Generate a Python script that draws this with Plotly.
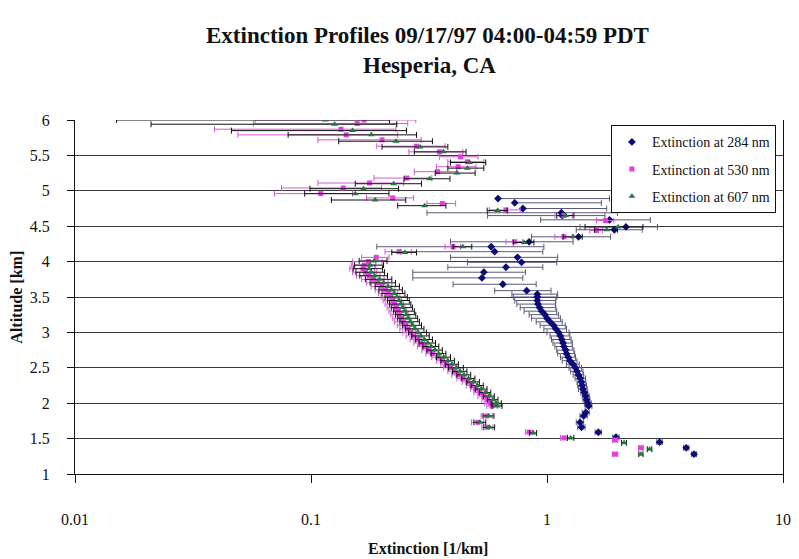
import plotly.graph_objects as go

# ---------------- data ----------------
# Extinction at 284 nm
alt_284 = [1.28, 1.37, 1.45, 1.52, 1.59, 1.66, 1.73, 1.82, 1.87, 1.96, 2.00, 2.05, 2.10, 2.15,
           2.20, 2.25, 2.30, 2.35, 2.40, 2.45, 2.50, 2.55, 2.60, 2.65, 2.70, 2.75, 2.80, 2.85,
           2.90, 2.95, 3.00, 3.05, 3.10, 3.15, 3.20, 3.25, 3.30, 3.35, 3.40, 3.45, 3.50, 3.54,
           3.59, 3.68, 3.77, 3.85, 3.92, 3.99, 4.06, 4.14, 4.21, 4.28, 4.35, 4.45, 4.49, 4.59,
           4.65, 4.69, 4.75, 4.83, 4.89]
ext_284 = [4.2, 3.89, 3.0, 1.96, 1.65, 1.40, 1.38, 1.43, 1.46, 1.50, 1.49, 1.47, 1.46, 1.44,
           1.42, 1.41, 1.40, 1.385, 1.36, 1.34, 1.32, 1.29, 1.25, 1.23, 1.21, 1.20, 1.18, 1.17,
           1.155, 1.14, 1.12, 1.09, 1.065, 1.03, 1.00, 0.98, 0.95, 0.93, 0.915, 0.91, 0.91, 0.91,
           0.82, 0.65, 0.53, 0.54, 0.67, 0.78, 0.75, 0.60, 0.58, 0.84, 1.36, 1.93, 2.16, 1.84,
           1.16, 1.15, 0.79, 0.73, 0.62]
err_284 = [0.10, 0.10, 0.08, 0.06, 0.05, 0.05, 0.05, 0.05, 0.05, 0.05, 0.05, 0.05, 0.05, 0.05,
           0.06, 0.06, 0.06, 0.07, 0.07, 0.08, 0.08, 0.08, 0.09, 0.09, 0.10, 0.10, 0.10, 0.11,
           0.11, 0.11, 0.12, 0.12, 0.13, 0.13, 0.14, 0.14, 0.15, 0.16, 0.17, 0.18, 0.19, 0.20,
           0.22, 0.25, 0.26, 0.27, 0.29, 0.32, 0.36, 0.36, 0.39, 0.45, 0.50, 0.60, 0.78, 0.90,
           0.60, 0.84, 1.00, 0.97, 1.22]

# Extinction at 530 nm
alt_530 = [1.28, 1.37, 1.48, 1.51, 1.59, 1.66, 1.73, 1.82, 1.96, 2.00, 2.05, 2.10, 2.15, 2.20,
           2.25, 2.30, 2.35, 2.40, 2.45, 2.50, 2.55, 2.60, 2.65, 2.70, 2.75, 2.80, 2.85, 2.90,
           2.95, 3.00, 3.05, 3.10, 3.15, 3.20, 3.25, 3.30, 3.35, 3.40, 3.45, 3.50, 3.55, 3.60,
           3.65, 3.70, 3.75, 3.80, 3.85, 3.90, 3.95, 4.00, 4.06, 4.14, 4.21, 4.28, 4.35, 4.44,
           4.58, 4.65, 4.73, 4.82, 4.90, 4.96, 5.04, 5.11, 5.18, 5.27, 5.34, 5.41, 5.48, 5.55,
           5.63, 5.72, 5.79, 5.87, 5.95, 6.00]
ext_530 = [1.945, 2.50, 1.945, 1.18, 0.84, 0.56, 0.509, 0.556, 0.585, 0.575, 0.56, 0.54, 0.52, 0.50,
           0.48, 0.462, 0.44, 0.42, 0.405, 0.39, 0.375, 0.36, 0.345, 0.327, 0.315, 0.303, 0.293, 0.283,
           0.273, 0.265, 0.258, 0.252, 0.246, 0.242, 0.238, 0.234, 0.230, 0.226, 0.222, 0.218, 0.213, 0.207,
           0.200, 0.192, 0.184, 0.176, 0.170, 0.166, 0.168, 0.175, 0.189, 0.236, 0.40, 0.73, 1.18, 1.62,
           1.77, 1.18, 0.67, 0.36, 0.222, 0.11, 0.137, 0.177, 0.255, 0.344, 0.42, 0.46, 0.43, 0.35,
           0.28, 0.200, 0.141, 0.134, 0.157, 0.168]
err_530 = [0.05, 0.06, 0.05, 0.04, 0.03, 0.03, 0.03, 0.03, 0.03, 0.03, 0.03, 0.03, 0.03, 0.025,
           0.025, 0.025, 0.025, 0.025, 0.025, 0.025, 0.02, 0.02, 0.02, 0.02, 0.02, 0.02, 0.02, 0.02,
           0.02, 0.02, 0.02, 0.02, 0.02, 0.02, 0.02, 0.02, 0.02, 0.02, 0.02, 0.02, 0.02, 0.02,
           0.02, 0.02, 0.02, 0.02, 0.02, 0.02, 0.02, 0.025, 0.025, 0.03, 0.03, 0.06, 0.10, 0.10,
           0.15, 0.10, 0.10, 0.05, 0.05, 0.04, 0.062, 0.07, 0.07, 0.07, 0.08, 0.08, 0.08, 0.09,
           0.09, 0.093, 0.092, 0.095, 0.10, 0.11]

# Extinction at 607 nm
alt_607 = [1.28, 1.35, 1.44, 1.51, 1.58, 1.66, 1.73, 1.82, 1.96, 2.00, 2.05, 2.10, 2.15, 2.20,
           2.25, 2.30, 2.35, 2.40, 2.45, 2.50, 2.55, 2.60, 2.65, 2.70, 2.75, 2.80, 2.85, 2.90,
           2.95, 3.00, 3.05, 3.10, 3.15, 3.20, 3.25, 3.30, 3.35, 3.40, 3.45, 3.50, 3.55, 3.60,
           3.65, 3.70, 3.75, 3.80, 3.85, 3.90, 3.95, 4.01, 4.13, 4.21, 4.27, 4.35, 4.45, 4.49,
           4.65, 4.72, 4.79, 4.87, 4.96, 5.03, 5.10, 5.17, 5.25, 5.32, 5.40, 5.55, 5.62, 5.70,
           5.79, 5.85, 5.94, 6.00]
ext_607 = [2.50, 2.72, 2.12, 1.26, 0.874, 0.57, 0.52, 0.566, 0.615, 0.61, 0.59, 0.568, 0.548, 0.527,
           0.507, 0.487, 0.465, 0.445, 0.428, 0.412, 0.396, 0.38, 0.365, 0.348, 0.335, 0.323, 0.312, 0.302,
           0.292, 0.284, 0.276, 0.269, 0.263, 0.258, 0.253, 0.249, 0.244, 0.240, 0.236, 0.231, 0.225, 0.219,
           0.212, 0.203, 0.195, 0.186, 0.180, 0.176, 0.178, 0.185, 0.25, 0.44, 0.80, 1.29, 1.79, 2.0,
           1.20, 0.618, 0.303, 0.187, 0.154, 0.167, 0.224, 0.318, 0.416, 0.46, 0.47, 0.364, 0.29, 0.229,
           0.18, 0.150, 0.126, 0.115]
err_607 = [0.05, 0.06, 0.05, 0.04, 0.03, 0.03, 0.03, 0.03, 0.03, 0.03, 0.03, 0.03, 0.03, 0.03,
           0.03, 0.03, 0.03, 0.03, 0.03, 0.03, 0.025, 0.025, 0.025, 0.025, 0.025, 0.025, 0.025, 0.025,
           0.025, 0.025, 0.025, 0.025, 0.025, 0.025, 0.025, 0.025, 0.025, 0.025, 0.025, 0.025, 0.025, 0.025,
           0.025, 0.025, 0.025, 0.025, 0.025, 0.025, 0.025, 0.025, 0.03, 0.04, 0.08, 0.12, 0.20, 0.55,
           0.10, 0.06, 0.07, 0.065, 0.06, 0.068, 0.07, 0.07, 0.08, 0.08, 0.08, 0.09, 0.09, 0.098,
           0.10, 0.104, 0.105, 0.10]

y_ticks = [1, 1.5, 2, 2.5, 3, 3.5, 4, 4.5, 5, 5.5, 6]
y_tick_text = ["1", "1.5", "2", "2.5", "3", "3.5", "4", "4.5", "5", "5.5", "6"]
x_ticks = [0.01, 0.1, 1, 10]
x_tick_text = ["0.01", "0.1", "1", "10"]

title_1 = "Extinction Profiles 09/17/97 04:00-04:59 PDT"
title_2 = "Hesperia, CA"
x_title = "Extinction [1/km]"
y_title = "Altitude [km]"
names = ["Extinction at 284 nm", "Extinction at 530 nm", "Extinction at 607 nm"]

FONT = "Liberation Serif"


def minus_of(vals, errs):
    # Excel omits the lower whisker when it would reach zero or below on a log axis
    return [e if v - e > 0 else 0 for v, e in zip(vals, errs)]


series = [
    (alt_284, ext_284, err_284, names[0], "diamond", 6, "#0a0a78", "#5a5a78"),
    (alt_530, ext_530, err_530, names[1], "square", 5, "#e63ce6", "#d25ad2"),
    (alt_607, ext_607, err_607, names[2], "triangle-up", 6, "#217a3c", "#111111"),
]

fig = go.Figure()
for i, (alts, vals, errs, nm, sym, sz, col, ecol) in enumerate(series):
    fig.add_trace(go.Scatter(
        x=vals, y=alts, mode="markers", name=nm, legendgroup=str(i),
        marker=dict(symbol=sym, size=sz, color=col, line=dict(width=0)),
        error_x=dict(type="data", symmetric=False, array=errs,
                     arrayminus=minus_of(vals, errs),
                     color=ecol, thickness=1, width=3),
    ))

W, H = 799, 559
L, R, T, B = 75, 8, 120, 85
pw, ph = W - L - R, H - T - B


def px_x(px):
    return (px - L) / pw


def px_y(py):
    return (H - B - py) / ph


annotations = [
    dict(text="<b>" + title_1 + "</b>", x=px_x(431), y=px_y(36), xref="paper", yref="paper",
         showarrow=False, font=dict(family=FONT, size=23, color="#111"), xanchor="center", yanchor="middle"),
    dict(text="<b>" + title_2 + "</b>", x=px_x(433), y=px_y(66), xref="paper", yref="paper",
         showarrow=False, font=dict(family=FONT, size=23, color="#111"), xanchor="center", yanchor="middle"),
    dict(text="<b>" + x_title + "</b>", x=px_x(432), y=px_y(548), xref="paper", yref="paper",
         showarrow=False, font=dict(family=FONT, size=16, color="#111"), xanchor="center", yanchor="middle"),
    dict(text="<b>" + y_title + "</b>", x=px_x(15), y=px_y(297), xref="paper", yref="paper",
         showarrow=False, textangle=-90, font=dict(family=FONT, size=16, color="#111"),
         xanchor="center", yanchor="middle"),
]

fig.update_layout(
    width=W, height=H,
    margin=dict(l=L, r=R, t=T, b=B, pad=0),
    paper_bgcolor="white", plot_bgcolor="white",
    font=dict(family=FONT, size=16, color="#111"),
    showlegend=True,
    legend=dict(x=0.99, y=0.985, xanchor="right", yanchor="top",
                bgcolor="white", bordercolor="#111", borderwidth=1,
                font=dict(family=FONT, size=14, color="#111"),
                tracegroupgap=6, itemwidth=30),
    annotations=annotations,
    xaxis=dict(type="log", range=[-2, 1], tickvals=x_ticks, ticktext=x_tick_text,
               showgrid=False, zeroline=False, showline=True, linecolor="#111", linewidth=1,
               ticks="outside", ticklen=8, tickcolor="#111", ticklabelstandoff=23,
               tickfont=dict(family=FONT, size=16, color="#111")),
    yaxis=dict(range=[1, 6], tickvals=y_ticks, ticktext=y_tick_text,
               showgrid=True, gridcolor="#3a3a3a", gridwidth=1, zeroline=False,
               showline=True, linecolor="#111", linewidth=1, mirror=True,
               ticks="outside", ticklen=7, tickcolor="#111", ticklabelstandoff=14,
               tickfont=dict(family=FONT, size=16, color="#111")),
)

fig.write_html("out.html")
